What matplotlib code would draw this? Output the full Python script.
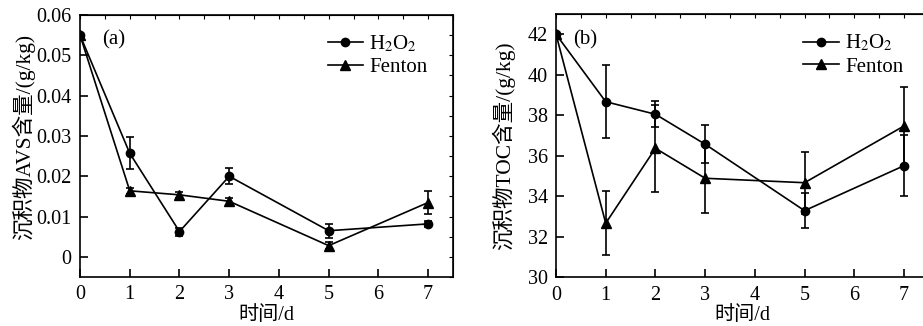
import numpy as np
import matplotlib
matplotlib.use("Agg")
import matplotlib.pyplot as plt
from matplotlib.lines import Line2D

plt.rcParams['font.family'] = ['Liberation Serif', 'Noto Sans CJK SC']
plt.rcParams['mathtext.fontset'] = 'stix'

days = [0, 1, 2, 3, 5, 7]

# Panel (a): AVS content (g/kg)
avs_h2o2 = [0.0550, 0.0257, 0.0063, 0.0200, 0.0065, 0.0082]
avs_h2o2_err = [0.0, 0.0040, 0.0010, 0.0020, 0.0017, 0.0008]
avs_fenton = [0.0550, 0.0164, 0.0154, 0.0138, 0.0028, 0.0135]
avs_fenton_err = [0.0, 0.0008, 0.0008, 0.0008, 0.0008, 0.0028]

# Panel (b): TOC content (g/kg)
toc_h2o2 = [42.0, 38.67, 38.05, 36.57, 33.29, 35.51]
toc_h2o2_err = [0.0, 1.80, 0.65, 0.95, 0.85, 1.50]
toc_fenton = [42.0, 32.67, 36.37, 34.89, 34.67, 37.47]
toc_fenton_err = [0.0, 1.57, 2.15, 1.73, 1.53, 1.94]

x_ticks = [0, 1, 2, 3, 4, 5, 6, 7]
avs_yticks = [0, 0.01, 0.02, 0.03, 0.04, 0.05, 0.06]
avs_yticklabels = ['0', '0.01', '0.02', '0.03', '0.04', '0.05', '0.06']
toc_yticks = [30, 32, 34, 36, 38, 40, 42]

fig = plt.figure(figsize=(9.23, 3.26), dpi=100)
ax1 = fig.add_axes([0.0867, 0.150, 0.4041, 0.804])
ax2 = fig.add_axes([0.6024, 0.1494, 0.4039, 0.8076])

TFS = 14.5
lw = 1.2

def draw(ax, h, he, f, fe, ylim, yticks, yticklabels, ylabel, tag, yminor, lab_xy):
    ax.errorbar(days, h, yerr=he, color='black', lw=lw, marker='o', ms=6,
                capsize=3, elinewidth=1.2, capthick=1.2)
    ax.errorbar(days, f, yerr=fe, color='black', lw=lw, marker='^', ms=7,
                capsize=3, elinewidth=1.2, capthick=1.2)
    ax.set_xlim(0, 7.5)
    ax.set_ylim(*ylim)
    ax.set_xticks(x_ticks)
    ax.set_xticklabels([str(v) for v in x_ticks])
    ax.set_yticks(yticks)
    ax.set_yticklabels(yticklabels)
    ax.tick_params(direction='in', length=6, width=1.2, labelsize=TFS, pad=6)
    for s in ax.spines.values():
        s.set_linewidth(1.2)
    secx = ax.secondary_xaxis('top')
    secx.set_xticks(np.arange(0, 7.51, 0.5))
    secx.set_xticklabels([])
    secx.tick_params(direction='in', length=3, width=0.8)
    secy = ax.secondary_yaxis('right')
    secy.set_yticks(yminor)
    secy.set_yticklabels([])
    secy.tick_params(direction='in', length=3, width=0.8)
    ax.set_xlabel('时间/d', fontsize=14.5, labelpad=1)
    ax.set_ylabel(ylabel, fontsize=15.5)
    ax.yaxis.set_label_coords(*lab_xy)
    ax.text(tag[1], tag[2], tag[0], transform=ax.transAxes, fontsize=15,
            va='center', ha='left')
    handles = [Line2D([], [], color='black', lw=lw, marker='o', ms=6),
               Line2D([], [], color='black', lw=lw, marker='^', ms=7)]
    ax.legend(handles, [r'H$_2$O$_2$', 'Fenton'], loc='upper right',
              bbox_to_anchor=(0.965, 0.975), frameon=False,
              fontsize=15, handlelength=1.7, handletextpad=0.3,
              labelspacing=0.15, borderaxespad=0.2)

draw(ax1, avs_h2o2, avs_h2o2_err, avs_fenton, avs_fenton_err, (-0.005, 0.06),
     avs_yticks, avs_yticklabels, '沉积物AVS含量/(g/kg)', ('(a)', 0.059, 0.905),
     np.arange(-0.005, 0.0601, 0.005), (-0.12, 0.535))
draw(ax2, toc_h2o2, toc_h2o2_err, toc_fenton, toc_fenton_err, (30, 43),
     toc_yticks, [str(v) for v in toc_yticks], '沉积物TOC含量/(g/kg)', ('(b)', 0.046, 0.90),
     np.arange(30, 43.01, 1), (-0.11, 0.5))

fig.savefig('out.png', dpi=100)
